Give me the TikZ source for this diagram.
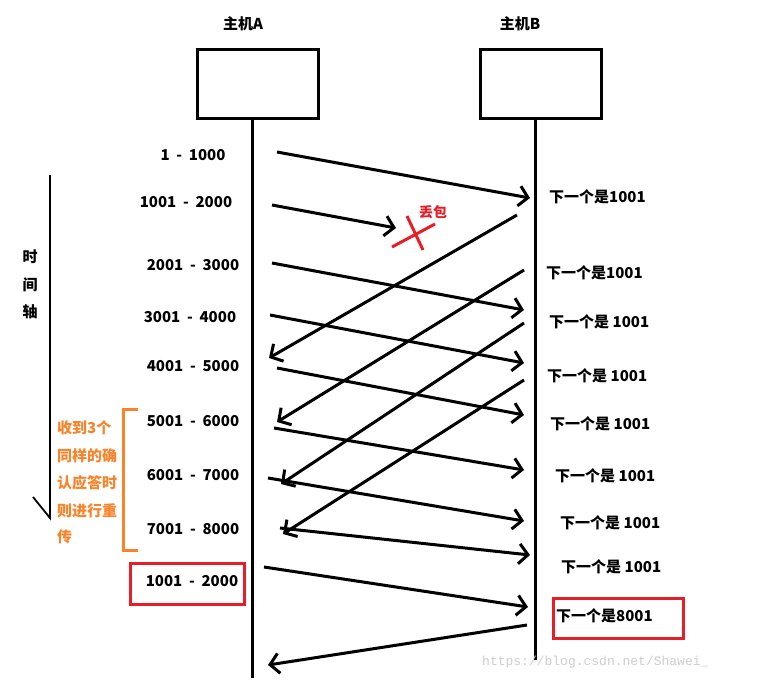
\documentclass[tikz,border=0pt]{standalone}
\usepackage{fontspec}
\setmainfont{Noto Sans CJK SC}
\newfontfamily\wmfont{Liberation Mono}
\usetikzlibrary{arrows.meta}
\definecolor{ored}{RGB}{230,30,40}
\definecolor{oorange}{RGB}{250,130,40}
\definecolor{wmgray}{RGB}{205,205,205}
\newcommand{\rng}[2]{#1\hspace{0.45em}-\hspace{0.45em}#2}
\tikzset{
  hostbox/.style={draw=black,line width=3pt,minimum width=121pt,minimum height=69pt,inner sep=0pt},
  lbl/.style={font=\fontsize{15}{17}\selectfont\bfseries,inner sep=0pt},
  acklbl/.style={font=\fontsize{15}{17}\selectfont\bfseries,inner sep=0pt,anchor=west},
  life/.style={line width=3pt},
  msg/.style={line width=3pt,-{Straight Barb[length=9pt,width=20pt]}},
  redbox/.style={draw=ored,line width=3pt},
}
\begin{document}
\begin{tikzpicture}[x=1pt,y=-1pt]
\useasboundingbox (0,0) rectangle (774,683);
% hosts
\node[lbl] (tA) at (243,24) {主机A};
\node[lbl] (tB) at (520,24) {主机B};
\node[hostbox] (A) at (257.5,83.5) {};
\node[hostbox] (B) at (540.5,83.5) {};
\coordinate (Aend) at (252,678);
\coordinate (Bend) at (535,660);
\draw[life] (A.south -| Aend) -- (Aend);
\draw[life] (B.south -| Bend) -- (Bend);

% left sequence labels
\node[lbl] (s1) at (193,155) {\rng{1}{1000}};
\node[lbl] (s2) at (186,202) {\rng{1001}{2000}};
\node[lbl] (s3) at (193,265) {\rng{2001}{3000}};
\node[lbl] (s4) at (190,317) {\rng{3001}{4000}};
\node[lbl] (s5) at (193,366) {\rng{4001}{5000}};
\node[lbl] (s6) at (193,421) {\rng{5001}{6000}};
\node[lbl] (s7) at (193,475) {\rng{6001}{7000}};
\node[lbl] (s8) at (193,529) {\rng{7001}{8000}};
\node[lbl] (s9) at (192,581) {\rng{1001}{2000}};
\node[redbox,minimum width=114pt,minimum height=41pt] (rb1) at (187,583.5) {};

% right ack labels
\node[acklbl] (r1) at (549,197) {下一个是1001};
\node[acklbl] (r2) at (546,273) {下一个是1001};
\node[acklbl] (r3) at (549,322) {下一个是 1001};
\node[acklbl] (r4) at (547,376) {下一个是 1001};
\node[acklbl] (r5) at (550,424) {下一个是 1001};
\node[acklbl] (r6) at (555,476) {下一个是 1001};
\node[acklbl] (r7) at (560,523) {下一个是 1001};
\node[acklbl] (r8) at (561,567) {下一个是 1001};
\node[acklbl] (r9) at (556,616) {下一个是8001};
\node[redbox,minimum width=130pt,minimum height=40pt] (rb2) at (618,618) {};

% forward segments
\coordinate (f1s) at (277,152); \coordinate (f1e) at (530,198);
\coordinate (f2s) at (272,205); \coordinate (f2e) at (396,228);
\coordinate (f3s) at (272,263); \coordinate (f3e) at (524,310);
\coordinate (f4s) at (270,315); \coordinate (f4e) at (524,363);
\coordinate (f5s) at (277,368); \coordinate (f5e) at (524,415);
\coordinate (f6s) at (274,428); \coordinate (f6e) at (524,470);
\coordinate (f7s) at (268,478); \coordinate (f7e) at (524,521);
\coordinate (f8s) at (280,528); \coordinate (f8e) at (530,555);
\coordinate (f9s) at (264,567); \coordinate (f9e) at (528,607);
\foreach \i in {1,...,9} \draw[msg] (f\i s) -- (f\i e);

% acks back
\coordinate (b1s) at (517,215); \coordinate (b1e) at (269,358);
\coordinate (b2s) at (524,270); \coordinate (b2e) at (277,422);
\coordinate (b3s) at (524,323); \coordinate (b3e) at (281,484);
\coordinate (b4s) at (524,380); \coordinate (b4e) at (283,534);
\coordinate (b5s) at (527,625); \coordinate (b5e) at (268,665);
\foreach \i in {1,...,5} \draw[msg] (b\i s) -- (b\i e);

% lost packet
\coordinate (x1a) at (392,247); \coordinate (x1b) at (435,224);
\coordinate (x2a) at (407,216); \coordinate (x2b) at (423,250);
\draw[ored,line width=3pt] (x1a) -- (x1b);
\draw[ored,line width=3pt] (x2a) -- (x2b);
\node[font=\fontsize{14}{16}\selectfont\bfseries,text=ored,inner sep=0pt] (lost) at (433,212) {丢包};

% time axis
\coordinate (t0) at (50,175); \coordinate (t1) at (50,518); \coordinate (t2) at (33,497);
\draw[line width=1.8pt] (t0) -- (t1) -- (t2);
\node[lbl] (ta1) at (30,257) {时};
\node[lbl] (ta2) at (30,285) {间};
\node[lbl] (ta3) at (30,312) {轴};

% orange bracket and note
\coordinate (o1) at (138,409); \coordinate (o2) at (123,409);
\coordinate (o3) at (123,550); \coordinate (o4) at (138,550);
\draw[oorange,line width=3pt] (o1) -- (o2) -- (o3) -- (o4);
\begin{scope}[every node/.style={font=\fontsize{15}{17}\selectfont\bfseries,text=oorange,inner sep=0pt,anchor=west}]
\node (n1) at (57,428) {收到3个};
\node (n2) at (57,456) {同样的确};
\node (n3) at (57,483) {认应答时};
\node (n4) at (57,511) {则进行重};
\node (n5) at (57,537) {传};
\end{scope}

% watermark
\node[font=\wmfont\fontsize{13}{15}\selectfont,text=wmgray,inner sep=0pt,anchor=west] (wm) at (482,662) {https://blog.csdn.net/Shawei\_};
\end{tikzpicture}
\end{document}
